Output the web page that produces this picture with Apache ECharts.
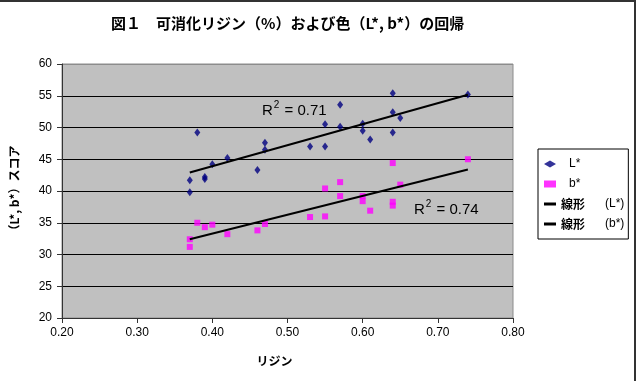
<!DOCTYPE html>
<html>
<head>
<meta charset="utf-8">
<title>図１ 可消化リジンと色の回帰</title>
<script src="https://cdn.jsdelivr.net/npm/echarts@6/dist/echarts.min.js"></script>
<style>
  body { margin: 0; background: #fff; }
  #wrap { position: relative; width: 638px; height: 381px; }
  #chart { position: absolute; left: 0; top: 0; width: 638px; height: 381px; }
  /* outer frame of the original sheet: only top and right edges show */
  #frame {
    position: absolute; left: 0; top: 0; width: 636px; height: 381px;
    box-sizing: border-box; border-top: 2px solid #333; border-right: 2px solid #333;
    pointer-events: none;
  }
</style>
</head>
<body>
<div id="wrap">
  <div id="chart"></div>
  <div id="frame"></div>
</div>
<script type="text/javascript">
// L* score vs lysine
var lysineL = [0.37, 0.37, 0.38, 0.39, 0.39, 0.40, 0.42, 0.46, 0.47, 0.47, 0.53, 0.55,
               0.55, 0.57, 0.57, 0.60, 0.60, 0.61, 0.64, 0.64, 0.64, 0.65, 0.74];
var scoreL  = [41.7, 39.8, 49.2, 42.2, 41.9, 44.2, 45.2, 43.3, 47.6, 46.5, 47.0, 47.0,
               50.5, 53.6, 50.1, 50.6, 49.5, 48.1, 55.4, 52.4, 49.2, 51.5, 55.2];

// b* score vs lysine
var lysineB = [0.37, 0.37, 0.38, 0.39, 0.40, 0.42, 0.46, 0.47, 0.53, 0.55, 0.55,
               0.57, 0.57, 0.60, 0.60, 0.61, 0.64, 0.64, 0.64, 0.65, 0.74];
var scoreB  = [32.4, 31.2, 35.0, 34.3, 34.7, 33.2, 33.8, 34.8, 35.9, 36.0, 40.4,
               41.4, 39.2, 39.2, 38.4, 36.9, 44.4, 38.3, 37.7, 41.0, 45.0];

// linear trend lines (end points)
var trendX = [0.37, 0.74];
var trendL = [42.9, 55.15];
var trendB = [32.4, 43.4];

var r2Values = ['0.71', '0.74'];

var seriesNames = ['L*', 'b*', '線形(L*)', '線形(b*)'];

function pairs(xs, ys) {
  var out = [];
  for (var i = 0; i < xs.length; i++) out.push([xs[i], ys[i]]);
  return out;
}

var latin = "'Liberation Sans', 'Noto Sans CJK JP', sans-serif";
var cjk = "'Noto Sans CJK JP', 'Liberation Sans', sans-serif";

// R^2 label with a real superscript
function r2Label(x, y, val) {
  return {
    type: 'text', x: x, y: y,
    style: {
      text: '{r|R}{s|2}{r| = ' + val + '}',
      fill: '#000',
      textVerticalAlign: 'middle',
      rich: {
        r: { fontFamily: latin, fontSize: 15, lineHeight: 18, verticalAlign: 'bottom' },
        s: { fontFamily: latin, fontSize: 10, lineHeight: 18, verticalAlign: 'top', padding: [0, 1, 0, 1] }
      }
    }
  };
}

var myChart = echarts.init(document.getElementById('chart'));

var option = {
  backgroundColor: '#fff',
  animation: false,
  title: {
    text: '図１　可消化リジン（%）および色（L*, b*）の回帰',
    left: 106,
    top: 11,
    textStyle: { fontFamily: cjk, fontSize: 15, fontWeight: 'bold', color: '#000' }
  },
  grid: {
    left: 57, right: 125, top: 64, bottom: 63,
    show: true,
    backgroundColor: '#c0c0c0',
    borderColor: '#8c8c8c',
    borderWidth: 1
  },
  legend: {
    orient: 'vertical',
    left: 538,
    top: 149,
    padding: [8, 4, 8, 6],
    itemWidth: 12,
    itemHeight: 7,
    itemGap: 6,
    borderColor: '#000',
    borderWidth: 1,
    backgroundColor: '#fff',
    selectedMode: false,
    data: [
      { name: seriesNames[0], icon: 'diamond' },
      { name: seriesNames[1], icon: 'rect' },
      { name: seriesNames[2], icon: 'path://M0,0H4V1H0Z' },
      { name: seriesNames[3], icon: 'path://M0,0H4V1H0Z' }
    ],
    formatter: function (name) {
      if (name.indexOf('線形') === 0) {
        return '{a|線形}{b|' + name.slice(2) + '}';
      }
      return '{c|' + name + '}';
    },
    textStyle: {
      fontFamily: latin, fontSize: 12, color: '#000', lineHeight: 14,
      rich: {
        a: { fontFamily: cjk, fontSize: 12, fontWeight: 'bold', width: 44, lineHeight: 14 },
        b: { fontFamily: latin, fontSize: 12, lineHeight: 14 },
        c: { fontFamily: latin, fontSize: 12, padding: [0, 0, 0, 8], lineHeight: 14 }
      }
    }
  },
  xAxis: {
    type: 'value',
    min: 0.2,
    max: 0.8,
    interval: 0.1,
    name: 'リジン',
    nameLocation: 'middle',
    nameGap: 37,
    nameTextStyle: { fontFamily: cjk, fontSize: 12, fontWeight: 'bold', color: '#000', padding: [0, 26, 0, 0] },
    axisLine: { show: true, lineStyle: { color: '#333', width: 1 } },
    axisTick: { show: true, inside: false, length: 5, lineStyle: { color: '#333' } },
    axisLabel: {
      margin: 9,
      fontFamily: latin, fontSize: 12, color: '#000',
      formatter: function (v) { return v.toFixed(2); }
    },
    splitLine: { show: false }
  },
  yAxis: {
    type: 'value',
    min: 20,
    max: 60,
    interval: 5,
    name: '（L*, b*）スコア',
    nameLocation: 'middle',
    nameGap: 42,
    nameTextStyle: { fontFamily: cjk, fontSize: 12, fontWeight: 'bold', color: '#000' },
    axisLine: { show: true, lineStyle: { color: '#333', width: 1 } },
    axisTick: { show: true, inside: false, length: 5, lineStyle: { color: '#333' } },
    axisLabel: { margin: 10, fontFamily: latin, fontSize: 12, color: '#000' },
    splitLine: {
      show: true,
      lineStyle: {
        color: ['#000', '#000', '#000', '#000', '#000', '#000', '#000', '#000', '#8c8c8c'],
        width: 1
      }
    }
  },
  graphic: [
    r2Label(262, 109, r2Values[0]),
    r2Label(414, 208, r2Values[1])
  ],
  series: [
    {
      name: seriesNames[0],
      type: 'scatter',
      symbol: 'diamond',
      symbolSize: [6, 8],
      itemStyle: { color: '#000080' },
      data: pairs(lysineL, scoreL),
      z: 3
    },
    {
      name: seriesNames[1],
      type: 'scatter',
      symbol: 'rect',
      symbolSize: 6,
      itemStyle: { color: '#ff00ff' },
      data: pairs(lysineB, scoreB),
      z: 3
    },
    {
      name: seriesNames[2],
      type: 'line',
      symbol: 'none',
      lineStyle: { color: '#000', width: 2 },
      itemStyle: { color: '#000' },
      data: pairs(trendX, trendL),
      z: 4
    },
    {
      name: seriesNames[3],
      type: 'line',
      symbol: 'none',
      lineStyle: { color: '#000', width: 2 },
      itemStyle: { color: '#000' },
      data: pairs(trendX, trendB),
      z: 4
    }
  ]
};

myChart.setOption(option);
</script>
</body>
</html>
